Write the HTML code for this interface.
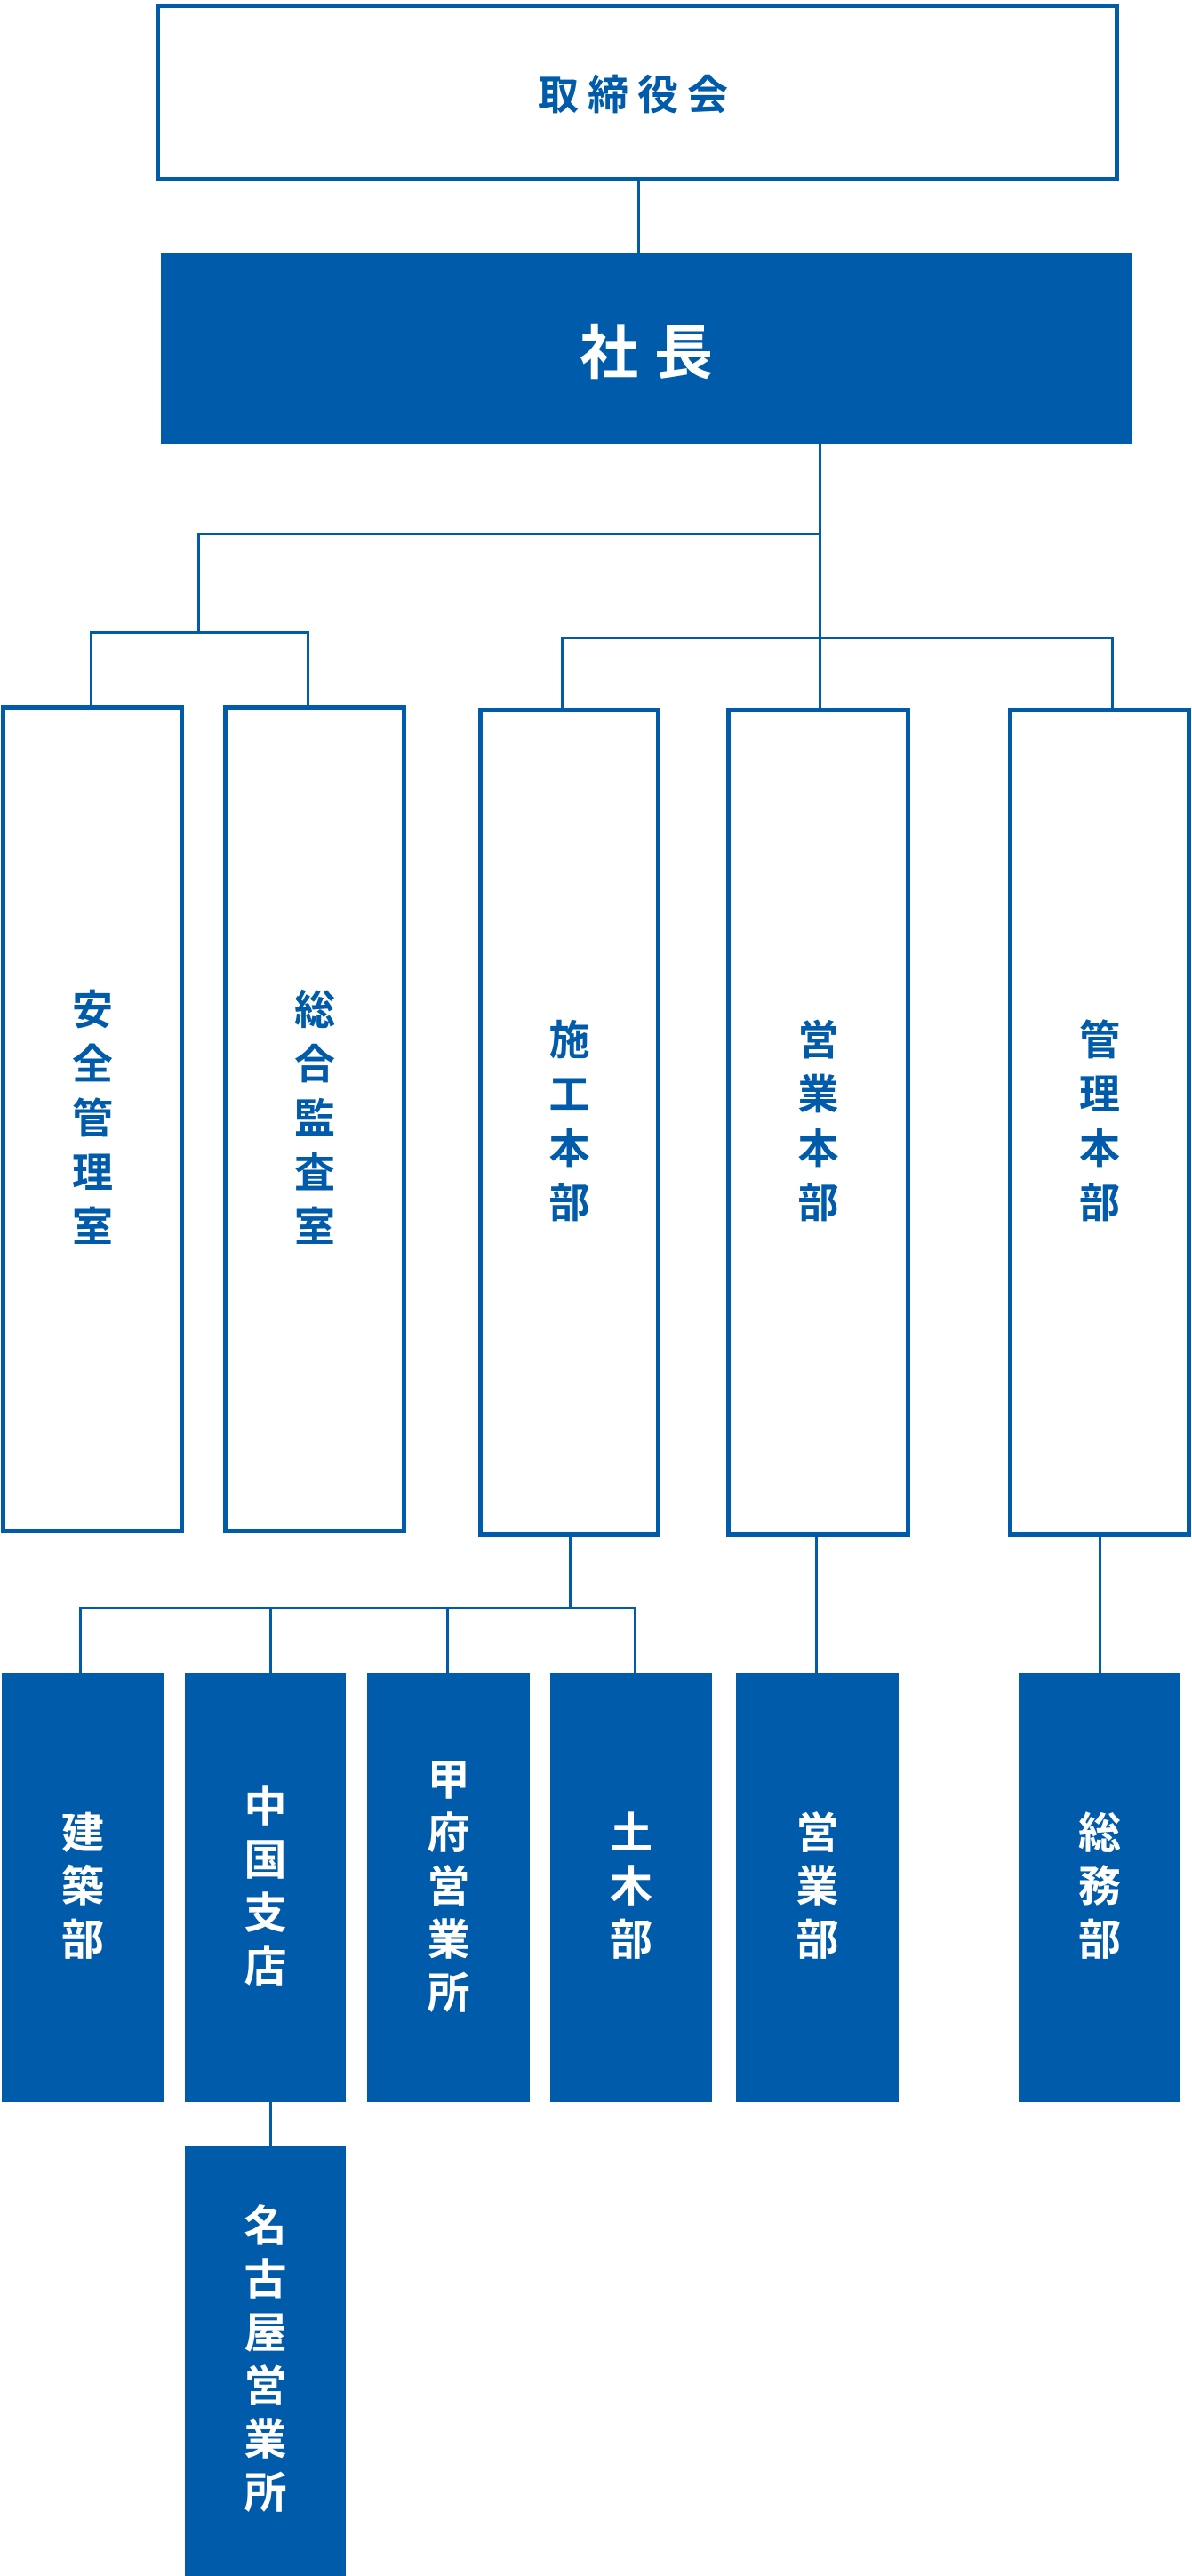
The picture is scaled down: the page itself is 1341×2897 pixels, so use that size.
<!DOCTYPE html>
<html><head><meta charset="utf-8"><style>
body{margin:0;width:1341px;height:2897px;position:relative;background:#fff;overflow:hidden;font-family:"Liberation Sans","Noto Sans CJK JP",sans-serif;font-weight:bold}
.b{position:absolute;box-sizing:border-box;display:flex;flex-direction:column;align-items:center;justify-content:center}
.o{border:5px solid #005BAB;background:#fff;color:#005BAB}
.f{background:#005BAB;color:#fff}
.v{font-size:46px;line-height:61px;text-align:center;width:60px;white-space:normal;word-break:break-all}
.f .v{font-size:48px;line-height:60px}
.l{position:absolute;background:#005BAB}
</style></head><body>
<div class="b o" style="left:175px;top:4px;width:1084px;height:200px;font-size:46px;letter-spacing:10px;">取締役会</div>
<div class="l" style="left:717px;top:203px;width:3px;height:82px"></div>
<div class="b f" style="left:181px;top:285px;width:1092px;height:214px;font-size:66px;letter-spacing:18px;padding-left:18px">社長</div>
<div class="l" style="left:921px;top:499px;width:3px;height:299px"></div>
<div class="l" style="left:222px;top:599px;width:702px;height:3px"></div>
<div class="l" style="left:222px;top:599px;width:3px;height:113px"></div>
<div class="l" style="left:101px;top:710px;width:247px;height:3px"></div>
<div class="l" style="left:101px;top:710px;width:3px;height:85px"></div>
<div class="l" style="left:345px;top:710px;width:3px;height:85px"></div>
<div class="l" style="left:631px;top:716px;width:622px;height:3px"></div>
<div class="l" style="left:631px;top:716px;width:3px;height:82px"></div>
<div class="l" style="left:1250px;top:716px;width:3px;height:82px"></div>
<div class="b o" style="left:1px;top:793px;width:206px;height:931px"><div class="v">安全管理室</div></div>
<div class="b o" style="left:251px;top:793px;width:206px;height:931px"><div class="v">総合監査室</div></div>
<div class="b o" style="left:538px;top:796px;width:205px;height:932px"><div class="v">施工本部</div></div>
<div class="b o" style="left:817px;top:796px;width:207px;height:932px"><div class="v">営業本部</div></div>
<div class="b o" style="left:1134px;top:796px;width:206px;height:932px"><div class="v">管理本部</div></div>
<div class="l" style="left:640px;top:1727px;width:3px;height:82px"></div>
<div class="l" style="left:89px;top:1807px;width:627px;height:3px"></div>
<div class="l" style="left:89px;top:1807px;width:3px;height:75px"></div>
<div class="l" style="left:303px;top:1807px;width:3px;height:75px"></div>
<div class="l" style="left:502px;top:1807px;width:3px;height:75px"></div>
<div class="l" style="left:713px;top:1807px;width:3px;height:75px"></div>
<div class="l" style="left:917px;top:1727px;width:3px;height:155px"></div>
<div class="l" style="left:1236px;top:1727px;width:3px;height:155px"></div>
<div class="b f" style="left:2px;top:1881px;width:182px;height:483px"><div class="v">建築部</div></div>
<div class="b f" style="left:208px;top:1881px;width:181px;height:483px"><div class="v">中国支店</div></div>
<div class="b f" style="left:413px;top:1881px;width:183px;height:483px"><div class="v">甲府営業所</div></div>
<div class="b f" style="left:619px;top:1881px;width:182px;height:483px"><div class="v">土木部</div></div>
<div class="b f" style="left:828px;top:1881px;width:183px;height:483px"><div class="v">営業部</div></div>
<div class="b f" style="left:1146px;top:1881px;width:182px;height:483px"><div class="v">総務部</div></div>
<div class="l" style="left:303px;top:2364px;width:3px;height:50px"></div>
<div class="b f" style="left:208px;top:2413px;width:181px;height:484px"><div class="v">名古屋営業所</div></div>
</body></html>
